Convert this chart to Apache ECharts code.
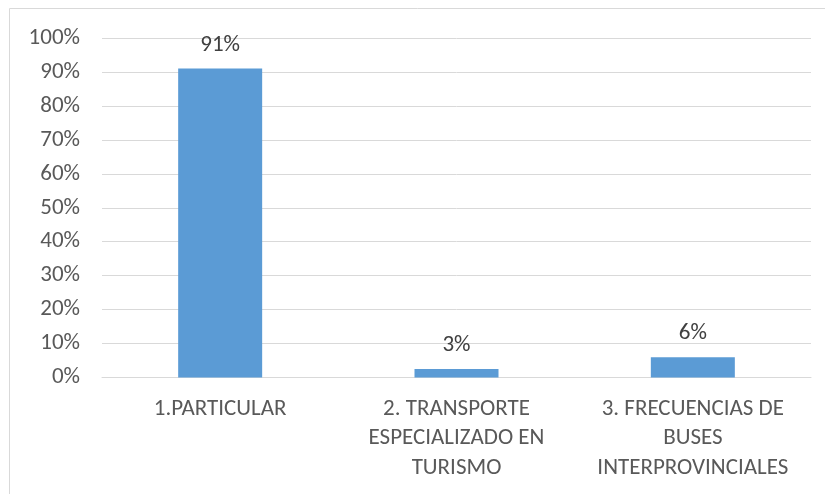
<!DOCTYPE html>
<html lang="es">
<head>
    <meta charset="UTF-8">
    <title>Transporte</title>
    <script src="https://cdn.jsdelivr.net/npm/echarts@6/dist/echarts.min.js"></script>
    <style>
        body, html {
            margin: 0;
            background: #fff;
        }
        #main {
            width: 825px;
            height: 494px;
        }
    </style>
</head>
<body>
<div id="main"></div>
<script>
    // datos
    var categories = [
        '1.PARTICULAR',
        '2. TRANSPORTE\nESPECIALIZADO EN\nTURISMO',
        '3. FRECUENCIAS DE\nBUSES\nINTERPROVINCIALES'
    ];
    var values = [0.91, 0.025, 0.06];
    var yTicks = [0, 0.1, 0.2, 0.3, 0.4, 0.5, 0.6, 0.7, 0.8, 0.9, 1];

    var font = 'Carlito, "Liberation Sans Narrow", Lato, sans-serif';

    var chart = echarts.init(document.getElementById('main'));

    var option = {
        animation: false,
        graphic: [{
            type: 'rect',
            shape: { x: 9.5, y: 8.5, width: 900, height: 600 },
            style: { fill: 'none', stroke: '#d9d9d9', lineWidth: 1 },
            silent: true
        }],
        grid: {
            left: 102,
            right: 14,
            top: 38,
            bottom: 116.5
        },
        xAxis: {
            type: 'category',
            data: categories,
            axisLine: { lineStyle: { color: '#d9d9d9' } },
            axisTick: { show: false },
            axisLabel: {
                color: '#595959',
                fontFamily: font,
                fontSize: 23,
                lineHeight: 29.5,
                margin: 16.5,
                interval: 0
            }
        },
        yAxis: {
            type: 'value',
            min: yTicks[0],
            max: yTicks[yTicks.length - 1],
            interval: 0.1,
            axisLine: { show: false },
            axisTick: { show: false },
            splitLine: { lineStyle: { color: '#d9d9d9' } },
            axisLabel: {
                color: '#595959',
                fontFamily: font,
                fontSize: 23,
                margin: 22,
                formatter: function (v) { return Math.round(v * 100) + '%'; }
            }
        },
        series: [{
            type: 'bar',
            data: values,
            barWidth: 84,
            itemStyle: { color: '#5b9bd5' },
            label: {
                show: true,
                position: 'top',
                distance: 12,
                color: '#404040',
                fontFamily: font,
                fontSize: 23,
                formatter: function (p) { return Math.round(p.value * 100) + '%'; }
            }
        }]
    };

    chart.setOption(option);
</script>
</body>
</html>
